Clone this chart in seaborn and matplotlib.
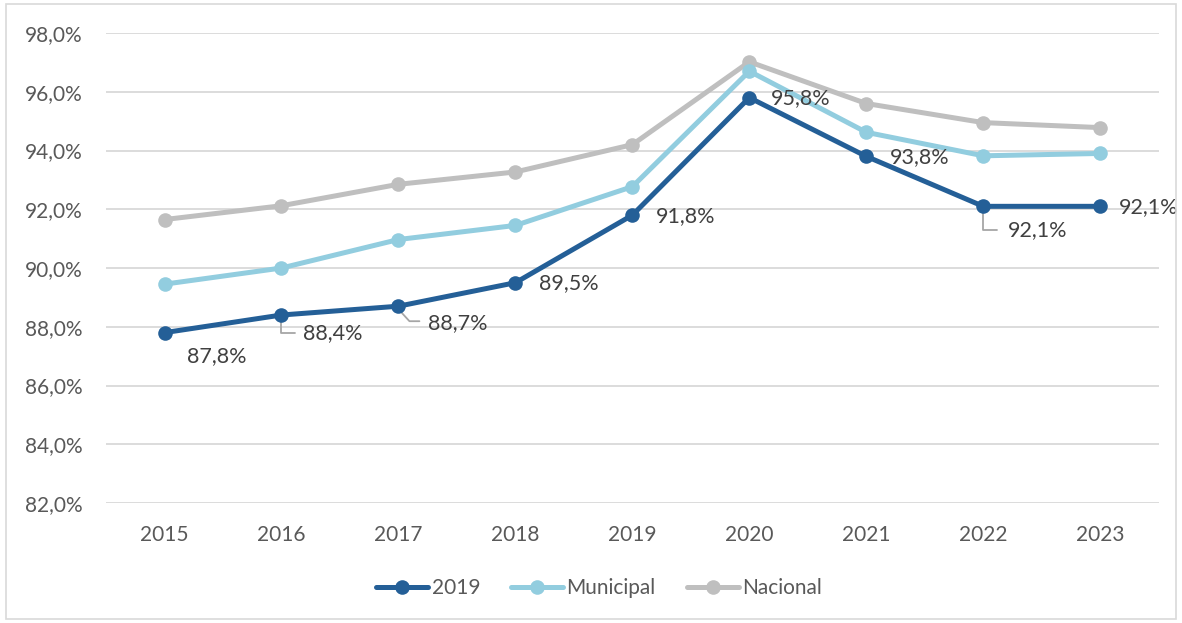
import pandas as pd
import matplotlib.pyplot as plt
import seaborn as sns
from matplotlib.ticker import FuncFormatter
from matplotlib.lines import Line2D
from matplotlib.patches import Rectangle

# Data
years = ["2015", "2016", "2017", "2018", "2019", "2020", "2021", "2022", "2023"]
serie_2019 = [87.8, 88.4, 88.7, 89.5, 91.8, 95.8, 93.8, 92.1, 92.1]
municipal = [89.45, 90.0, 90.97, 91.45, 92.77, 96.7, 94.62, 93.82, 93.9]
nacional = [91.65, 92.12, 92.85, 93.27, 94.2, 97.02, 95.6, 94.95, 94.78]
series_names = ["2019", "Municipal", "Nacional"]
colors = ["#245F97", "#92CDDF", "#BFBFBF"]

df = pd.DataFrame({
    "idx": list(range(len(years))) * 3,
    "valor": serie_2019 + municipal + nacional,
    "serie": [s for s in series_names for _ in years],
})

sns.set_style("white")
plt.rcParams["font.family"] = ["Lato", "DejaVu Sans"]

fig = plt.figure(figsize=(11.82, 6.23), dpi=100)
ax = fig.add_axes([0.0897, 0.1926, 0.8906, 0.7544])

# draw grey first so dark blue stays on top
for name, col in reversed(list(zip(series_names, colors))):
    sub = df[df["serie"] == name]
    sns.lineplot(data=sub, x="idx", y="valor", color=col, linewidth=3.6,
                 marker="o", markersize=10.5, markeredgewidth=0, ax=ax,
                 sort=False, legend=False)

ax.set_xlim(-0.5, len(years) - 0.5)
ax.set_ylim(82, 98)
ax.set_yticks(range(82, 99, 2))
ax.yaxis.set_major_formatter(FuncFormatter(lambda v, p: f"{v:.1f}%".replace(".", ",")))
ax.set_xticks(range(len(years)))
ax.set_xticklabels(years)
ax.set_xlabel("")
ax.set_ylabel("")
ax.grid(axis="y", color="#D9D9D9", linewidth=1.3)
ax.set_axisbelow(True)
for sp in ax.spines.values():
    sp.set_visible(False)
ax.tick_params(axis="both", length=0, labelsize=15, labelcolor="#595959")
ax.tick_params(axis="y", pad=17)
ax.tick_params(axis="x", pad=16)

# data labels for the 2019 series (offsets in pixels)
lab_off = [(22, -23), (22, -18), (30, -17), (24, 0), (24, -1),
           (22, 0), (24, -1), (25, -24), (19, -1)]
for i, v in enumerate(serie_2019):
    txt = f"{v:.1f}%".replace(".", ",")
    dx, dy = lab_off[i]
    ax.annotate(txt, (i, v), xytext=(dx, dy), textcoords="offset pixels",
                ha="left", va="center", fontsize=15.5, color="#404040")

# leader lines (pixel offsets from the data point)
def leader_line(i, v, pts):
    inv = ax.transData.inverted()
    x0, y0 = ax.transData.transform((i, v))
    coords = [inv.transform((x0 + px, y0 + py)) for px, py in pts]
    ax.plot([c[0] for c in coords], [c[1] for c in coords], color="#A6A6A6",
            linewidth=1.3, zorder=1)

leader_line(1, serie_2019[1], [(0, -5), (0, -18), (14, -18)])
leader_line(2, serie_2019[2], [(0, -3), (11, -15), (21, -15)])
leader_line(7, serie_2019[7], [(0, -5), (0, -24), (14, -24)])

# legend
handles = [Line2D([0], [0], color=c, lw=3.6, marker="o", markersize=10.5,
                  markeredgewidth=0) for c in colors]
fig.legend(handles, series_names, loc="center", bbox_to_anchor=(0.507, 0.056),
           ncol=3, frameon=False, fontsize=15, labelcolor="#595959",
           handlelength=2.5, handletextpad=0.15, columnspacing=1.5)

# outer chart border
fig.patches.append(Rectangle((0.005, 0.006), 0.99, 0.988, transform=fig.transFigure,
                             fill=False, edgecolor="#D9D9D9", linewidth=1.2))

fig.savefig("out.png", dpi=100)
